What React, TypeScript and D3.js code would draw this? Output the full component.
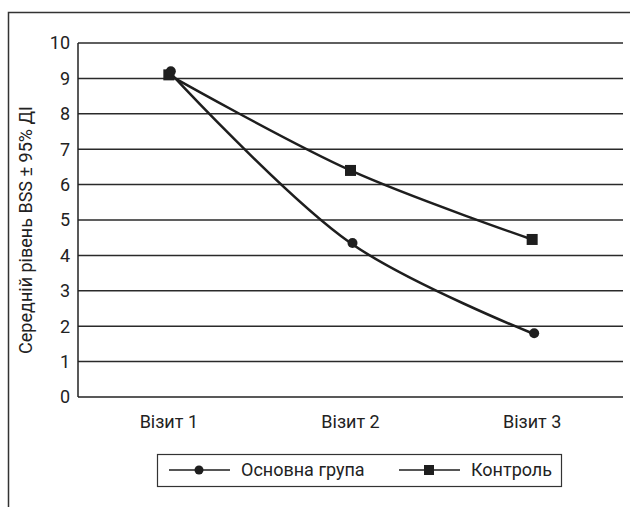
import React, { useEffect, useRef } from "react";
import * as d3 from "d3";

// visits on the x axis
const visits = ["Візит 1", "Візит 2", "Візит 3"];
// mean BSS per visit
const mainGroup = [9.2, 4.35, 1.8];
const control = [9.1, 6.4, 4.45];
const yTicks = [0, 1, 2, 3, 4, 5, 6, 7, 8, 9, 10];
const seriesNames = ["Основна група", "Контроль"];
const yLabel = "Середній рівень BSS ± 95% ДІ";

const W = 630;
const H = 507;
const FONT = "Roboto, 'Liberation Sans', Arial, sans-serif";
const FS = 18;

export default function App() {
  const ref = useRef<SVGSVGElement>(null);

  useEffect(() => {
    const svg = d3.select(ref.current);
    svg.selectAll("*").remove();

    // plot area
    const left = 78, right = 623, top = 43, bottom = 397;

    // outer frame (runs off the right and bottom edges)
    svg.append("rect")
      .attr("x", 8.5).attr("y", 12.5)
      .attr("width", 700).attr("height", 600)
      .attr("fill", "none").attr("stroke", "#333").attr("stroke-width", 1.5);

    const x = d3.scaleBand().domain(visits).range([left, right]);
    const y = d3.scaleLinear().domain([0, 10]).range([bottom, top]);

    // gridlines
    svg.append("g").selectAll("line")
      .data(yTicks.filter(d => d > 0))
      .join("line")
      .attr("x1", left).attr("x2", right)
      .attr("y1", d => y(d)).attr("y2", d => y(d))
      .attr("stroke", "#2a2a2a").attr("stroke-width", 1.5);

    // axes lines
    svg.append("line")
      .attr("x1", left).attr("x2", left).attr("y1", top).attr("y2", bottom)
      .attr("stroke", "#222").attr("stroke-width", 1.5);
    svg.append("line")
      .attr("x1", left).attr("x2", right).attr("y1", bottom).attr("y2", bottom)
      .attr("stroke", "#222").attr("stroke-width", 1.5);

    // y tick labels
    svg.append("g").selectAll("text")
      .data(yTicks)
      .join("text")
      .attr("x", left - 8)
      .attr("y", d => y(d))
      .attr("dy", "0.35em")
      .attr("text-anchor", "end")
      .attr("font-family", FONT).attr("font-size", FS).attr("fill", "#222")
      .text(d => d);

    // x tick labels
    svg.append("g").selectAll("text")
      .data(visits)
      .join("text")
      .attr("x", d => x(d)! + x.bandwidth() / 2)
      .attr("y", bottom + 31)
      .attr("text-anchor", "middle")
      .attr("font-family", FONT).attr("font-size", FS).attr("fill", "#222")
      .text(d => d);

    // y axis title
    svg.append("text")
      .attr("transform", `translate(32, 230) rotate(-90)`)
      .attr("text-anchor", "middle")
      .attr("font-family", FONT).attr("font-size", FS).attr("fill", "#222")
      .text(yLabel);

    const line = d3.line<number>()
      .x((d, i) => x(visits[i])! + x.bandwidth() / 2)
      .y(d => y(d))
      .curve(d3.curveCatmullRom.alpha(0.5));

    [mainGroup, control].forEach(vals => {
      svg.append("path")
        .attr("d", line(vals))
        .attr("fill", "none").attr("stroke", "#1e1e1e").attr("stroke-width", 2.5);
    });

    // markers
    svg.append("g").selectAll("rect")
      .data(control)
      .join("rect")
      .attr("x", (d, i) => x(visits[i])! + x.bandwidth() / 2 - 5.5)
      .attr("y", d => y(d) - 5.5)
      .attr("width", 11).attr("height", 11)
      .attr("fill", "#1e1e1e");
    svg.append("g").selectAll("circle")
      .data(mainGroup)
      .join("circle")
      .attr("cx", (d, i) => x(visits[i])! + x.bandwidth() / 2 + 2)
      .attr("cy", d => y(d))
      .attr("r", 5)
      .attr("fill", "#1e1e1e");

    // legend
    const lg = svg.append("g");
    lg.append("rect")
      .attr("x", 157.5).attr("y", 454.5).attr("width", 404).attr("height", 32)
      .attr("fill", "none").attr("stroke", "#333").attr("stroke-width", 1.2);
    const items = [
      { name: seriesNames[0], x0: 169, marker: "circle" },
      { name: seriesNames[1], x0: 399, marker: "square" },
    ];
    items.forEach(it => {
      const cy = 470;
      lg.append("line")
        .attr("x1", it.x0).attr("x2", it.x0 + 61).attr("y1", cy).attr("y2", cy)
        .attr("stroke", "#1e1e1e").attr("stroke-width", 1.5);
      if (it.marker === "circle") {
        lg.append("circle").attr("cx", it.x0 + 30).attr("cy", cy).attr("r", 4.5).attr("fill", "#1e1e1e");
      } else {
        lg.append("rect").attr("x", it.x0 + 25).attr("y", cy - 5).attr("width", 10).attr("height", 10).attr("fill", "#1e1e1e");
      }
      lg.append("text")
        .attr("x", it.x0 + 72).attr("y", cy).attr("dy", "0.35em")
        .attr("font-family", FONT).attr("font-size", FS).attr("fill", "#222")
        .text(it.name);
    });
  }, []);

  return (
    <svg ref={ref} width={W} height={H}
      style={{ position: "absolute", left: 0, top: 0, background: "#fff" }} />
  );
}
